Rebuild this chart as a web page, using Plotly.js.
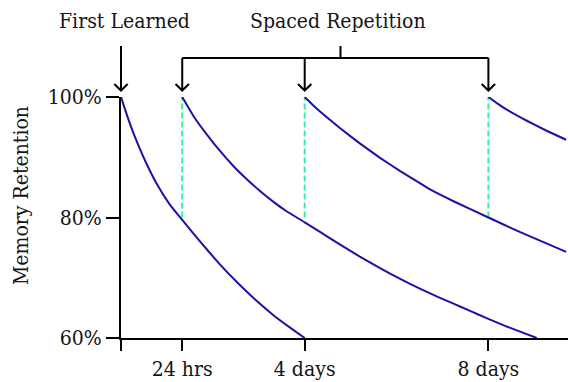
<!DOCTYPE html>
<html>
<head>
<meta charset="utf-8">
<script src="https://cdn.plot.ly/plotly-3.0.1.min.js"></script>
<style>html,body{margin:0;padding:0;background:#fff;}#chart{width:568px;height:382px;}</style>
</head>
<body>
<div id="chart"></div>
<script>
// ---- data (x in spacing units: 24 hrs = 1, 4 days = 3, 8 days = 6) ----
const curve1X = [0, 0.1, 0.2, 0.4, 0.6, 0.8, 1.0, 1.3, 1.6, 1.9, 2.2, 2.5, 2.75, 3.0];
const curve1Y = [100, 96.9, 94.1, 89.3, 85.3, 82.1, 79.6, 75.9, 72.4, 69.2, 66.3, 63.7, 61.8, 60.0];

const curve2X = [1, 1.18, 1.40, 1.62, 1.83, 2.05, 2.27, 2.49, 2.71, 3.0, 3.25, 3.58, 3.90, 4.23, 4.56, 4.88, 5.20, 5.43, 5.70, 5.97, 6.30, 6.79];
const curve2Y = [100, 96.9, 93.8, 91.0, 88.6, 86.4, 84.4, 82.6, 81.0, 79.2, 77.6, 75.5, 73.5, 71.6, 69.8, 68.2, 66.7, 65.7, 64.5, 63.3, 61.9, 60.0];

const curve3X = [3, 3.12, 3.25, 3.58, 3.90, 4.23, 4.56, 4.88, 5.04, 5.43, 6.0, 6.51, 7.27];
const curve3Y = [100, 98.8, 97.6, 94.8, 92.3, 89.9, 87.7, 85.7, 84.7, 82.7, 80.0, 77.6, 74.3];

const curve4X = [6, 6.15, 6.30, 6.62, 6.95, 7.27];
const curve4Y = [100, 98.9, 97.9, 96.1, 94.4, 92.9];

const reviewX = [1, 3, 6];          // spaced repetition points
const reviewLow = 80, reviewHigh = 100;
const learnedX = 0;

const xTickVals = [0, 1, 3, 6];
const xTickText = ['', '24 hrs', '4 days', '8 days'];
const yTickVals = [60, 80, 100];
const yTickText = ['60%', '80%', '100%'];

// ---- geometry / style ----
const W = 568, H = 382;
const M = {l: 121, r: 0, t: 97, b: 44};
const X_RANGE = [0, 7.3];
const Y_RANGE = [60, 100];
const plotW = W - M.l - M.r, plotH = H - M.t - M.b;
const FONT = "'DejaVu Serif Condensed', 'DejaVu Serif', serif";
const FS = 21;
const TXT = '#151515';
const CURVE = '#1c12a4';
const DASH = '#33f2a2';

const dx2p = x => (x - X_RANGE[0]) / (X_RANGE[1] - X_RANGE[0]);
const px2p = px => (px - M.l) / plotW;
const py2p = py => (H - M.b - py) / plotH;

const curves = [[curve1X, curve1Y], [curve2X, curve2Y], [curve3X, curve3Y], [curve4X, curve4Y]];
const traces = [];
reviewX.forEach(x => traces.push({
  x: [x, x], y: [reviewLow, reviewHigh], mode: 'lines', cliponaxis: false,
  line: {color: DASH, width: 2, dash: '6px,3px'}, hoverinfo: 'skip', showlegend: false
}));
curves.forEach(c => traces.push({
  x: c[0], y: c[1], mode: 'lines', cliponaxis: false,
  line: {color: CURVE, width: 2, shape: 'spline', smoothing: 0.3}, showlegend: false
}));

// arrows (decoration), built in paper coords
const topY = 46, barY = 58, tipY = 90.5, headH = 6.5, headW = 6.7;
function downArrow(xData, fromPy) {
  const xp = dx2p(xData);
  const hw = headW / plotW;
  return `M${xp},${py2p(fromPy)} L${xp},${py2p(tipY)} ` +
         `M${xp - hw},${py2p(tipY - headH)} L${xp},${py2p(tipY)} L${xp + hw},${py2p(tipY - headH)}`;
}
let path = downArrow(learnedX, topY);
reviewX.forEach(x => { path += ' ' + downArrow(x, barY); });
path += ` M${dx2p(reviewX[0])},${py2p(barY)} L${dx2p(reviewX[reviewX.length - 1])},${py2p(barY)}`;
path += ` M${px2p(340.5)},${py2p(barY)} L${px2p(340.5)},${py2p(topY)}`;

const shapes = [{type: 'path', xref: 'paper', yref: 'paper', path: path,
  line: {color: '#000', width: 2}}];

const annotations = [
  {text: 'First Learned', xref: 'paper', yref: 'paper', x: px2p(124), y: py2p(21), xanchor: 'center', yanchor: 'middle', showarrow: false, font: {family: FONT, size: FS, color: TXT}},
  {text: 'Spaced Repetition', xref: 'paper', yref: 'paper', x: px2p(337.5), y: py2p(21), xanchor: 'center', yanchor: 'middle', showarrow: false, font: {family: FONT, size: FS, color: TXT}},
  {text: 'Memory Retention', xref: 'paper', yref: 'paper', x: px2p(21), y: py2p(196), xanchor: 'center', yanchor: 'middle', textangle: -90, showarrow: false, font: {family: FONT, size: FS, color: TXT}}
];

const layout = {
  width: W, height: H, margin: M, paper_bgcolor: '#fff', plot_bgcolor: '#fff',
  font: {family: FONT, size: FS, color: TXT},
  showlegend: false,
  xaxis: {range: X_RANGE, tickvals: xTickVals, ticktext: xTickText, showgrid: false, zeroline: false,
    showline: true, linecolor: '#000', linewidth: 2, ticks: 'outside', ticklen: 11, tickwidth: 2, tickcolor: '#000',
    tickfont: {family: FONT, size: FS, color: TXT}, fixedrange: true},
  yaxis: {range: Y_RANGE, tickvals: yTickVals, ticktext: yTickText, showgrid: false, zeroline: false,
    showline: true, linecolor: '#000', linewidth: 2, ticks: 'outside', ticklen: 13, tickwidth: 2, tickcolor: '#000',
    tickfont: {family: FONT, size: FS, color: TXT}, fixedrange: true},
  shapes: shapes, annotations: annotations
};

Plotly.newPlot('chart', traces, layout, {staticPlot: true, displayModeBar: false});
</script>
</body>
</html>
